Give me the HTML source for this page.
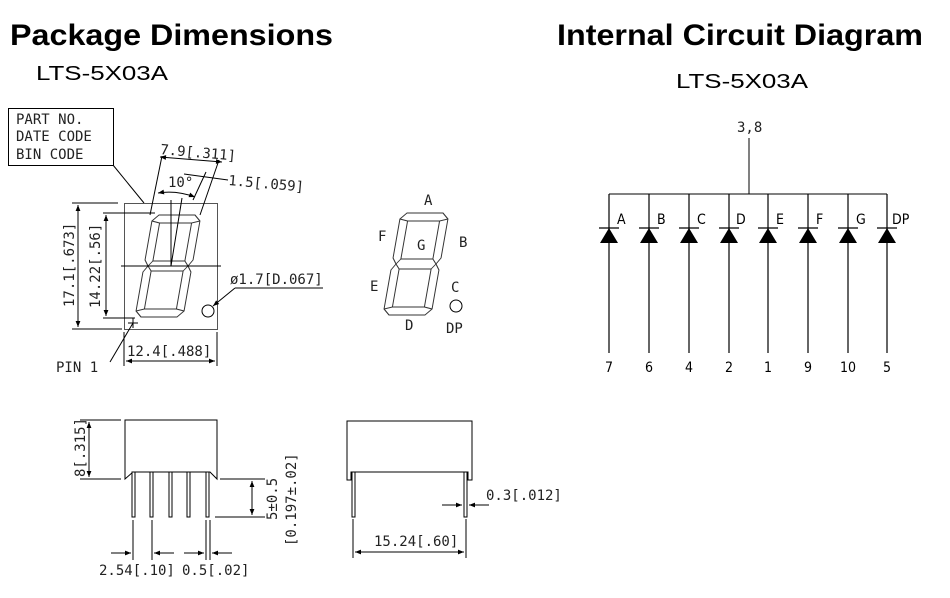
<!DOCTYPE html>
<html><head><meta charset="utf-8"><style>body{margin:0;background:#fff}svg{display:block}</style></head>
<body>
<svg width="950" height="598" viewBox="0 0 950 598" xmlns="http://www.w3.org/2000/svg" font-family="Liberation Sans, sans-serif">
<defs>
<marker id="ar" viewBox="0 0 10 10" refX="10" refY="5" markerWidth="9" markerHeight="6" orient="auto-start-reverse" markerUnits="userSpaceOnUse"><path d="M0,1L10,5L0,9z" fill="#000"/></marker>
<g id="dig" fill="none" stroke="#333" stroke-width="1">
<path d="M6,0 L42,0 L48,-6 L48,-45 L44,-51 L48,-57 L48,-96 L42,-102 L6,-102 L0,-96 L0,-57 L4,-51 L0,-45 L0,-6 Z"/>
<rect x="8" y="-94" width="32" height="38"/>
<rect x="8" y="-46" width="32" height="38"/>
<path d="M0,-96 L8,-94 M48,-96 L40,-94 M0,-6 L8,-8 M48,-6 L40,-8 M4,-51 L8,-56 M4,-51 L8,-46 M44,-51 L40,-56 M44,-51 L40,-46"/>
</g>
</defs>
<g fill="#000">
<text x="10" y="45" font-size="30" font-weight="bold" textLength="323" lengthAdjust="spacingAndGlyphs">Package Dimensions</text>
<text x="557" y="45" font-size="30" font-weight="bold" textLength="366" lengthAdjust="spacingAndGlyphs">Internal Circuit Diagram</text>
<text x="36" y="80" font-size="20" textLength="132" lengthAdjust="spacingAndGlyphs">LTS-5X03A</text>
<text x="676" y="88" font-size="20" textLength="132" lengthAdjust="spacingAndGlyphs">LTS-5X03A</text>
</g>
<g stroke="#000" stroke-width="1" fill="none">
<!-- part label box -->
<rect x="8.5" y="108.5" width="105" height="57"/>
<line x1="113" y1="165" x2="144" y2="203"/>
<!-- body -->
<rect x="124.5" y="203.5" width="93" height="126" stroke="#555"/>
<use href="#dig" transform="translate(135,317) skewX(-10)"/>
<use href="#dig" transform="translate(383,315) skewX(-10)"/>
<circle cx="208" cy="311" r="6"/>
<circle cx="456" cy="306" r="6"/>
<!-- center lines -->
<line x1="121" y1="266" x2="221" y2="266"/>
<line x1="171" y1="200" x2="171" y2="266"/>
<line x1="166" y1="266" x2="176" y2="266"/>
<line x1="171" y1="266" x2="182" y2="198"/>
<!-- height dims -->
<line x1="72" y1="203" x2="118" y2="203"/>
<line x1="72" y1="329" x2="122" y2="329"/>
<line x1="78" y1="205" x2="78" y2="327" marker-start="url(#ar)" marker-end="url(#ar)"/>
<line x1="103" y1="213" x2="155" y2="213"/>
<line x1="103" y1="318" x2="135" y2="318"/>
<line x1="106" y1="215" x2="106" y2="316" marker-start="url(#ar)" marker-end="url(#ar)"/>
<!-- width dim -->
<line x1="124" y1="332" x2="124" y2="366"/>
<line x1="217" y1="332" x2="217" y2="366"/>
<line x1="126" y1="361" x2="215" y2="361" marker-start="url(#ar)" marker-end="url(#ar)"/>
<!-- slant dims -->
<line x1="150" y1="215" x2="162" y2="156"/>
<line x1="200" y1="215" x2="219" y2="160"/>
<line x1="160" y1="157" x2="222" y2="162" marker-start="url(#ar)" marker-end="url(#ar)"/>
<line x1="193" y1="200" x2="206" y2="172"/>
<line x1="184" y1="174" x2="228" y2="180"/>
<path d="M158,193 Q176,190 195,197" marker-start="url(#ar)" marker-end="url(#ar)"/>
<!-- pin1 -->
<line x1="128" y1="323" x2="138" y2="323"/>
<line x1="133" y1="318" x2="133" y2="328"/>
<line x1="133" y1="323" x2="110" y2="362"/>
<!-- dia leader -->
<line x1="213" y1="306" x2="235" y2="288" marker-end="url(#ar)" transform="rotate(180 224 297)"/>
<line x1="235" y1="288" x2="323" y2="288"/>

<!-- side view left -->
<path d="M125,479 L125,420 L217,420 L217,479 L210,472 L133,472 Z"/>
<g fill="#fff"><rect x="132" y="472" width="3" height="45"/><rect x="150" y="472" width="3" height="45"/><rect x="169" y="472" width="3" height="45"/><rect x="187" y="472" width="3" height="45"/><rect x="206" y="472" width="3" height="45"/></g>
<line x1="80" y1="420" x2="121" y2="420"/>
<line x1="80" y1="479" x2="121" y2="479"/>
<line x1="89" y1="422" x2="89" y2="477" marker-start="url(#ar)" marker-end="url(#ar)"/>
<line x1="220" y1="479" x2="265" y2="479"/>
<line x1="215" y1="517" x2="265" y2="517"/>
<line x1="252" y1="481" x2="252" y2="515" marker-start="url(#ar)" marker-end="url(#ar)"/>
<line x1="133" y1="520" x2="133" y2="560"/>
<line x1="152" y1="520" x2="152" y2="560"/>
<line x1="111" y1="553" x2="131" y2="553" marker-end="url(#ar)"/>
<line x1="174" y1="553" x2="154" y2="553" marker-end="url(#ar)"/>
<line x1="206" y1="520" x2="206" y2="560"/>
<line x1="210" y1="520" x2="210" y2="560"/>
<line x1="184" y1="553" x2="204" y2="553" marker-end="url(#ar)"/>
<line x1="232" y1="553" x2="212" y2="553" marker-end="url(#ar)"/>

<!-- side view right -->
<path d="M347,480 L347,421 L472,421 L472,480 L468,480 L468,472 L351,472 L351,480 Z"/>
<rect x="352" y="472" width="3" height="45" fill="#fff"/>
<rect x="464" y="472" width="3" height="45" fill="#fff"/>
<line x1="353" y1="519" x2="353" y2="558"/>
<line x1="466" y1="519" x2="466" y2="558"/>
<line x1="355" y1="552" x2="464" y2="552" marker-start="url(#ar)" marker-end="url(#ar)"/>
<line x1="442" y1="505" x2="462" y2="505" marker-end="url(#ar)"/>
<line x1="489" y1="505" x2="469" y2="505" marker-end="url(#ar)"/>

<!-- circuit -->
<line x1="749" y1="138" x2="749" y2="194"/>
<line x1="609" y1="194" x2="887" y2="194"/>
</g>
<g font-family="DejaVu Sans Mono, Liberation Mono, monospace" font-size="14" fill="#222">
<text x="16" y="124">PART NO.</text>
<text x="16" y="141">DATE CODE</text>
<text x="16" y="159">BIN CODE</text>
<text x="160" y="154" transform="rotate(5 160 154)">7.9[.311]</text>
<text x="228" y="185" transform="rotate(5 228 185)">1.5[.059]</text>
<text x="168" y="187">10°</text>
<text x="230" y="284">ø1.7[D.067]</text>
<text x="56" y="372">PIN 1</text>
<text x="127" y="356">12.4[.488]</text>
<text transform="translate(74,307) rotate(-90)">17.1[.673]</text>
<text transform="translate(100,308) rotate(-90)">14.22[.56]</text>
<text x="424" y="205">A</text>
<text x="378" y="241">F</text>
<text x="417" y="250">G</text>
<text x="459" y="247">B</text>
<text x="370" y="291">E</text>
<text x="451" y="292">C</text>
<text x="405" y="330">D</text>
<text x="446" y="333">DP</text>
<text transform="translate(85,477) rotate(-90)">8[.315]</text>
<text transform="translate(277,520) rotate(-90)">5±0.5</text>
<text transform="translate(296,546) rotate(-90)">[0.197±.02]</text>
<text x="99" y="575">2.54[.10]</text>
<text x="182" y="575">0.5[.02]</text>
<text x="374" y="546">15.24[.60]</text>
<text x="486" y="500">0.3[.012]</text>
<text x="737" y="132">3,8</text>
</g>
<g id="diodes"></g>
<g stroke="#000" stroke-width="1.2">
<g id="d" >
</g>
</g>
<g font-family="DejaVu Sans Condensed, Liberation Sans, sans-serif" font-size="14" fill="#000">
<!-- diodes generated statically -->
<g stroke="#000" stroke-width="1.2">
<line x1="609" y1="194" x2="609" y2="353"/><line x1="649" y1="194" x2="649" y2="353"/><line x1="689" y1="194" x2="689" y2="353"/><line x1="729" y1="194" x2="729" y2="353"/><line x1="768" y1="194" x2="768" y2="353"/><line x1="808" y1="194" x2="808" y2="353"/><line x1="848" y1="194" x2="848" y2="353"/><line x1="887" y1="194" x2="887" y2="353"/>
<line x1="599" y1="228" x2="619" y2="228"/><line x1="639" y1="228" x2="659" y2="228"/><line x1="679" y1="228" x2="699" y2="228"/><line x1="719" y1="228" x2="739" y2="228"/><line x1="758" y1="228" x2="778" y2="228"/><line x1="798" y1="228" x2="818" y2="228"/><line x1="838" y1="228" x2="858" y2="228"/><line x1="877" y1="228" x2="897" y2="228"/>
</g>
<path d="M609,228L600,243L618,243Z M649,228L640,243L658,243Z M689,228L680,243L698,243Z M729,228L720,243L738,243Z M768,228L759,243L777,243Z M808,228L799,243L817,243Z M848,228L839,243L857,243Z M887,228L878,243L896,243Z"/>
<text x="617" y="224">A</text><text x="657" y="224">B</text><text x="697" y="224">C</text><text x="736" y="224">D</text><text x="776" y="224">E</text><text x="816" y="224">F</text><text x="856" y="224">G</text><text x="892" y="224">DP</text>
<text x="605" y="372">7</text><text x="645" y="372">6</text><text x="685" y="372">4</text><text x="725" y="372">2</text><text x="764" y="372">1</text><text x="804" y="372">9</text><text x="840" y="372">10</text><text x="883" y="372">5</text>
</g>
</svg>
</body></html>
